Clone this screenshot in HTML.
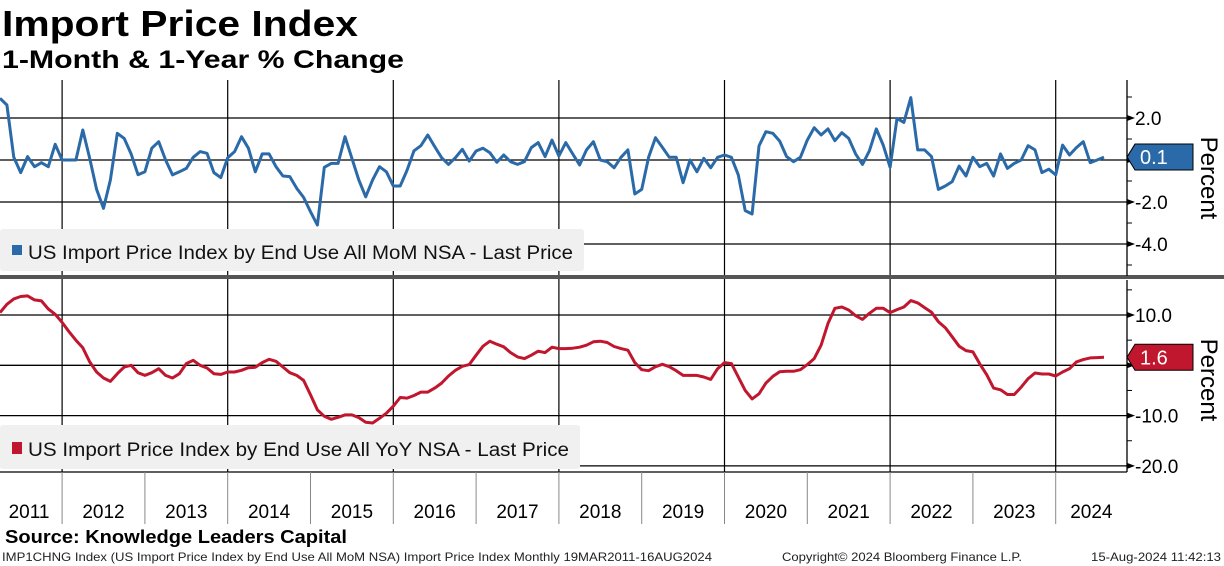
<!DOCTYPE html>
<html><head><meta charset="utf-8"><style>
body{margin:0;background:#fff;width:1224px;height:566px;overflow:hidden}
svg{display:block;font-family:"Liberation Sans","DejaVu Sans",sans-serif}
</style></head><body>
<svg id="c" width="1224" height="566" viewBox="0 0 1224 566">
<text x="2" y="36" font-size="36" font-weight="bold" textLength="356" lengthAdjust="spacingAndGlyphs">Import Price Index</text>
<text x="2" y="68" font-size="25" font-weight="bold" textLength="402" lengthAdjust="spacingAndGlyphs">1-Month &amp; 1-Year % Change</text>
<g id="grid"></g>
<g id="top-legend">
<rect x="0" y="229" width="584" height="42" fill="#f0f0f0" rx="3"/>
<rect x="12" y="245" width="10" height="10" fill="#2b6aa8"/>
<text x="28" y="259" font-size="19" fill="#111" textLength="545" lengthAdjust="spacingAndGlyphs">US Import Price Index by End Use All MoM NSA - Last Price</text>
</g>
<g id="bot-legend">
<rect x="0" y="425" width="580" height="44" fill="#f0f0f0" rx="3"/>
<rect x="12" y="442" width="10" height="12" fill="#c0162e"/>
<text x="28" y="456" font-size="19" fill="#111" textLength="541" lengthAdjust="spacingAndGlyphs">US Import Price Index by End Use All YoY NSA - Last Price</text>
</g>
<g id="series"></g>
<rect x="0" y="275" width="1224" height="4" fill="#555"/>
<g id="axes"></g>
<text x="5" y="543" font-size="18" font-weight="bold" textLength="342" lengthAdjust="spacingAndGlyphs">Source: Knowledge Leaders Capital</text>
<text x="2" y="561" font-size="12" fill="#222" textLength="710" lengthAdjust="spacingAndGlyphs">IMP1CHNG Index (US Import Price Index by End Use All MoM NSA) Import Price Index  Monthly 19MAR2011-16AUG2024</text>
<text x="782" y="561" font-size="12" fill="#222" textLength="240" lengthAdjust="spacingAndGlyphs">Copyright© 2024 Bloomberg Finance L.P.</text>
<text x="1091" y="561" font-size="12" fill="#222" textLength="130" lengthAdjust="spacingAndGlyphs">15-Aug-2024 11:42:13</text>
</svg>
<script>
const years=["2011","2012","2013","2014","2015","2016","2017","2018","2019","2020","2021","2022","2023","2024"];
const momValues=[2.94,2.62,0.13,-0.6,0.16,-0.32,-0.13,-0.32,0.75,0,0,0,1.43,0.08,-1.4,-2.3,-0.95,1.27,1.03,0.29,-0.7,-0.56,0.56,0.87,0,-0.71,-0.56,-0.4,0.13,0.4,0.32,-0.6,-0.84,0.11,0.4,1.11,0.56,-0.56,0.29,0.29,-0.32,-0.76,-0.79,-1.35,-1.78,-2.46,-3.1,-0.35,-0.16,-0.16,1.11,0.08,-0.95,-1.75,-0.95,-0.32,-0.56,-1.24,-1.24,-0.48,0.44,0.68,1.19,0.64,0.11,-0.21,0.11,0.51,-0.05,0.43,0.56,0.35,-0.11,0.24,-0.08,-0.21,-0.08,0.59,0.83,0.16,0.95,0.19,0.83,0.29,-0.24,0.48,0.87,0,-0.08,-0.37,0.13,0.48,-1.62,-1.4,0.13,1.06,0.6,0.13,0.13,-1.08,0,-0.56,0.08,-0.37,0.13,0.24,0.13,-0.71,-2.41,-2.57,0.67,1.35,1.27,0.9,0.16,-0.08,0.13,0.95,1.54,1.19,1.48,0.92,1.3,1.03,0.29,-0.21,0.44,1.48,0.71,-0.35,1.98,1.79,2.97,0.48,0.48,0.16,-1.4,-1.24,-1.03,-0.29,-0.76,0.13,-0.32,-0.16,-0.76,0.29,-0.4,-0.16,0,0.68,0.48,-0.6,-0.44,-0.71,0.71,0.24,0.59,0.87,-0.13,0,0.14];
const yoyValues=[10.47,12.13,13.2,13.67,13.8,13.0,12.8,11.2,10.13,8.53,6.67,5.0,3.47,0.67,-1.33,-2.53,-3.2,-1.67,-0.33,0,-1.47,-2.0,-1.47,-0.67,-2.0,-2.53,-1.67,0.33,1.0,0,-0.53,-1.67,-1.8,-1.33,-1.33,-1.0,-0.47,-0.4,0.53,1.2,0.8,-0.33,-1.47,-2.0,-3.0,-5.87,-8.87,-10.13,-10.73,-10.33,-9.87,-9.87,-10.4,-11.33,-11.47,-10.53,-9.53,-8.13,-6.4,-6.53,-6.0,-5.33,-5.33,-4.53,-3.53,-2.13,-1.0,-0.2,0.13,2.0,3.8,4.8,4.2,3.67,2.53,1.67,1.33,2.0,2.8,2.53,3.6,3.33,3.33,3.4,3.6,4.0,4.67,4.8,4.53,3.73,3.33,3.0,0.53,-0.87,-1.07,-0.27,0.2,-0.27,-1.07,-2.0,-2.0,-2.0,-2.33,-2.8,-0.67,0.53,0.33,-2.33,-5.0,-6.67,-5.67,-3.53,-2.2,-1.27,-1.2,-1.2,-0.87,0.13,1.33,4.0,8.33,11.33,11.6,11.0,9.87,9.13,10.33,11.33,11.33,10.47,11.07,11.6,12.87,12.4,11.47,10.53,8.67,7.47,5.67,3.8,2.93,2.67,0.27,-1.87,-4.53,-4.87,-5.8,-5.8,-4.33,-2.67,-1.53,-1.73,-1.73,-2.13,-1.33,-0.67,0.67,1.13,1.47,1.53,1.6];
const topTicks=[2,0,-2,-4];
const topTickLabels=["2.0","","-2.0","-4.0"];
const botTicks=[10,0,-10,-20];
const botTickLabels=["10.0","","-10.0","-20.0"];

const NS="http://www.w3.org/2000/svg";
const X0=0, MONTH=6.9, FIRST_MONTH=3;
const AXX=1127;
function xOfIndex(i){return X0+i*MONTH;}
function xOfYear(y){return X0+((y-2011)*12-FIRST_MONTH)*MONTH;}
function yTop(v){return 160-v*21;}
function yBot(v){return 365.3-v*5.03;}
function mk(tag,attrs,parent){const e=document.createElementNS(NS,tag);for(const k in attrs)e.setAttribute(k,attrs[k]);parent.appendChild(e);return e;}
const grid=document.getElementById('grid'),axes=document.getElementById('axes'),series=document.getElementById('series');

for(let y=2012;y<=2024;y+=2){
  const x=xOfYear(y);
  const l=mk('line',{x1:x,x2:x,y1:80,y2:472,stroke:'#000','stroke-width':1.2},grid);
  
  
}
function panel(ticks,labels,yf,top,bottom,minor,name){
  ticks.forEach((t,k)=>{
    const y=yf(t);
    const g=mk('line',{x1:0,x2:AXX,y1:y,y2:y,stroke:'#000','stroke-width':1.3},grid);
    
    
    mk('path',{d:`M${AXX} ${y-3}L${AXX+8} ${y}L${AXX} ${y+3}Z`,fill:'#000'},axes);
    if(labels[k]){
      const tx=mk('text',{x:AXX+8,y:y+7,'font-size':19,fill:'#000'},axes);
      tx.textContent=labels[k];
      
      
    }
  });
  minor.forEach(m=>{const y=yf(m);mk('line',{x1:AXX,x2:AXX+5,y1:y,y2:y,stroke:'#000','stroke-width':1},axes);});
  const ax=mk('line',{x1:AXX,x2:AXX,y1:top,y2:bottom,stroke:'#000','stroke-width':1.3},axes);
  
  
}
panel(topTicks,topTickLabels,yTop,80,276,[3,1,-1,-3,-5],'top-y');
panel(botTicks,botTickLabels,yBot,280,472,[15,5,-5,-15],'bottom-y');
mk('line',{x1:0,x2:AXX,y1:472,y2:472,stroke:'#000','stroke-width':1.3},grid);

years.forEach((yr,k)=>{
  const y=+yr;
  const a=Math.max(0,xOfYear(y)), b=Math.min(AXX,xOfYear(y+1));
  if(y>2011){mk('line',{x1:xOfYear(y),x2:xOfYear(y),y1:472,y2:524,stroke:'#888','stroke-width':1},grid);}
  const t=mk('text',{x:(y==2011?29:(a+b)/2),y:518,'font-size':19,'text-anchor':'middle',fill:'#000'},axes);
  t.textContent=yr;
  
  
});

function line(vals,yf,color,name){
  const d=vals.map((v,i)=>(i?'L':'M')+xOfIndex(i).toFixed(1)+' '+yf(v).toFixed(1)).join('');
  const p=mk('path',{d:d,fill:'none',stroke:color,'stroke-width':3,'stroke-linejoin':'round'},series);
  
  
}
line(momValues,yTop,'#2b6aa8','mom-line');
line(yoyValues,yBot,'#c0162e','yoy-line');

function lastTag(v,yf,color,name){
  const y=yf(v);
  const g=mk('g',{},axes);
  
  
  mk('path',{d:`M${AXX} ${y}L${AXX+8} ${y-13}L${AXX+66} ${y-13}L${AXX+66} ${y+13}L${AXX+8} ${y+13}Z`,fill:color,stroke:'#000','stroke-width':1},g);
  const t=mk('text',{x:AXX+13,y:y+7,'font-size':20,fill:'#fff'},g);
  t.textContent=v.toFixed(1);
}
lastTag(momValues[momValues.length-1],yTop,'#2b6aa8','mom-last-value');
lastTag(yoyValues[yoyValues.length-1],yBot,'#c0162e','yoy-last-value');

[[178,'top-y-title'],[380,'bottom-y-title']].forEach(([cy,n])=>{
  const t=mk('text',{x:0,y:0,'font-size':24,'text-anchor':'middle',transform:`translate(1201 ${cy}) rotate(90)`},axes);
  t.textContent='Percent';
  
  
});
</script>
</body></html>
